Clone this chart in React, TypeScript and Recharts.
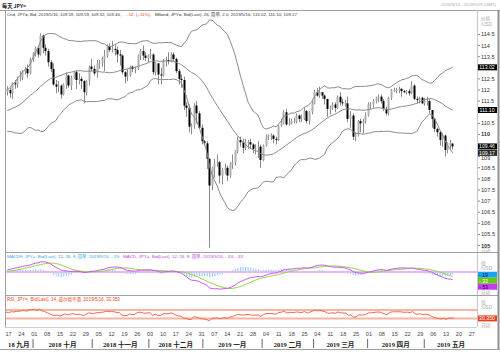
import React from "react";
import { Bar, ComposedChart, Line, ReferenceLine, XAxis, YAxis } from "recharts";

// daily slots run Sep 14 2018 .. May 29 2019, weekdays only
const FIRST_DAY = Date.UTC(2018, 8, 14);
const N_SLOTS = 184;

// closes Jul 2 .. Sep 13 2018, only used to warm up the indicators
const WARMUP_CLOSE = [
  110.9, 110.45, 110.5, 110.6, 110.45, 110.85, 111.0, 112.0, 112.5, 112.35, 112.3, 112.9, 112.85, 112.45, 111.4,
  111.35, 111.2, 110.95, 111.05, 111.05, 111.05, 111.85, 111.7, 111.65, 111.25, 111.35, 111.4, 110.95, 111.05, 110.9,
  110.7, 111.15, 110.7, 110.9, 110.5, 110.05, 110.3, 110.5, 111.3, 111.25, 111.15, 111.2, 111.7, 111.0, 111.0,
  111.05, 111.5, 111.5, 110.7, 110.95, 111.1, 111.6, 111.3, 111.95,
];

const OPEN = [
  // Sep
  111.92, 112.0, 111.85, 112.3, 112.25, 112.5, 112.55, 112.8, 112.95, 112.75, 113.4,
  // Oct
  113.65, 113.9, 113.6, 114.45, 113.9, 113.75, 113.25, 112.95, 112.25, 112.15, 112.2, 111.8, 112.25, 112.65, 112.2,
  112.55, 112.8, 112.45, 112.5, 112.4, 111.9, 112.4, 113.05,
  // Nov
  112.95, 112.75, 113.2, 113.2, 113.4, 113.55, 113.95, 113.8, 113.85, 113.8, 113.6, 113.55, 112.8, 112.6, 112.65,
  113.05, 112.95, 112.95, 113.55, 113.75, 113.55, 113.45,
  // Dec
  113.55, 113.6, 112.8, 113.2, 112.7, 112.65, 113.3, 113.35, 113.3, 113.6, 113.4, 112.85, 112.5, 112.45, 111.3,
  111.2, 110.35, 110.4, 111.3, 110.95, 110.3,
  // Jan
  109.7, 109.6, 108.9, 107.7, 108.5, 108.7, 108.75, 108.15, 108.4, 108.5, 108.15, 108.65, 108.75, 109.25, 109.75,
  109.65, 109.4, 109.6, 109.65, 109.55, 109.35, 109.4, 109.45,
  // Feb
  108.85, 109.5, 109.9, 109.95, 109.95, 109.8, 109.75, 110.4, 110.5, 111.0, 110.45, 110.5, 110.6, 110.6, 110.85,
  110.7, 110.7, 111.05, 110.6, 111.0,
  // Mar
  111.4, 111.9, 111.75, 111.9, 111.75, 111.6, 111.15, 111.2, 111.35, 111.2, 111.7, 111.45, 111.4, 111.4, 110.7,
  110.85, 109.9, 110.0, 110.6, 110.5, 110.6,
  // Apr
  110.85, 111.35, 111.35, 111.5, 111.65, 111.7, 111.5, 111.15, 110.95, 111.65, 112.0, 112.0, 112.0, 112.05, 111.95,
  111.9, 111.95, 111.85, 112.2, 111.6, 111.55, 111.65,
  // May
  111.4, 111.5, 111.5, 111.1, 110.7, 110.25, 110.1, 109.75, 109.95, 109.3, 109.6, 109.59,
];

const HIGH = [
  112.17, 112.1, 112.35, 112.45, 112.6, 112.85, 112.9, 113.05, 113.15, 113.45, 113.7,
  113.95, 114.0, 114.55, 114.5, 114.05, 113.85, 113.35, 113.2, 112.45, 112.4, 112.25, 112.3, 112.8, 112.7, 112.65,
  112.85, 112.9, 112.75, 112.6, 112.45, 112.45, 113.1, 113.4,
  113.1, 113.35, 113.35, 113.5, 113.8, 114.05, 114.1, 114.2, 114.05, 113.95, 113.8, 113.6, 112.85, 112.95, 113.1,
  113.1, 113.05, 113.6, 113.85, 114.0, 113.7, 113.6,
  113.85, 113.65, 113.25, 113.2, 113.0, 113.4, 113.5, 113.7, 113.7, 113.7, 113.45, 112.95, 112.7, 112.6, 111.45,
  111.35, 110.5, 111.4, 111.5, 111.05, 110.45,
  109.75, 109.7, 108.95, 108.55, 108.9, 109.1, 108.8, 108.5, 108.7, 108.6, 108.75, 109.1, 109.3, 109.9, 109.9,
  109.8, 109.8, 109.75, 109.8, 109.6, 109.55, 109.7, 109.55,
  109.55, 110.0, 110.0, 110.05, 110.0, 109.9, 110.45, 110.7, 111.1, 111.15, 110.75, 110.7, 110.75, 110.95, 110.9,
  110.9, 111.2, 111.1, 111.05, 111.5,
  112.0, 112.1, 112.15, 111.9, 111.8, 111.6, 111.3, 111.45, 111.45, 111.75, 111.9, 111.6, 111.55, 111.7, 111.05,
  110.95, 110.1, 110.65, 110.7, 110.7, 111.0,
  111.45, 111.45, 111.6, 111.7, 111.8, 111.8, 111.6, 111.25, 111.7, 112.05, 112.1, 112.1, 112.15, 112.1, 112.0,
  112.0, 112.05, 112.4, 112.25, 111.7, 111.7, 111.7,
  111.65, 111.7, 111.6, 111.1, 110.75, 110.3, 110.15, 110.05, 110.0, 109.65, 109.75, 109.59,
];

const LOW = [
  111.75, 111.65, 111.6, 112.05, 112.1, 112.4, 112.45, 112.7, 112.55, 112.7, 113.25,
  113.5, 113.45, 113.55, 113.65, 113.55, 113.05, 112.8, 112.2, 111.85, 111.9, 111.6, 111.75, 112.05, 112.1, 112.0,
  112.5, 112.05, 112.25, 112.05, 111.4, 111.75, 112.2, 112.85,
  112.65, 112.55, 112.95, 113.05, 112.85, 113.45, 113.7, 113.7, 113.55, 113.25, 113.1, 112.7, 112.3, 112.4, 112.6,
  112.8, 112.75, 112.9, 113.35, 113.35, 113.3, 113.25,
  113.4, 112.7, 112.65, 112.25, 112.25, 112.6, 113.05, 113.15, 113.25, 113.3, 112.75, 112.25, 112.1, 111.1, 110.8,
  110.1, 110.0, 110.25, 110.5, 110.25, 109.55,
  109.5, 108.45, 104.9, 107.5, 108.05, 108.55, 107.8, 107.75, 108.2, 107.9, 108.05, 108.45, 108.6, 109.15, 109.45,
  109.15, 109.3, 109.35, 109.35, 109.15, 109.1, 108.95, 108.5,
  108.8, 109.45, 109.75, 109.75, 109.6, 109.55, 109.7, 110.35, 110.45, 110.4, 110.4, 110.45, 110.5, 110.5, 110.55,
  110.55, 110.65, 110.5, 110.45, 110.9,
  111.35, 111.7, 111.65, 111.6, 111.35, 110.8, 110.9, 111.1, 111.0, 111.15, 111.3, 111.3, 111.25, 110.55, 110.3,
  109.75, 109.7, 109.9, 110.1, 110.05, 110.5,
  110.8, 111.15, 111.2, 111.4, 111.45, 111.4, 111.05, 110.85, 110.85, 111.55, 111.9, 111.85, 111.85, 111.7, 111.85,
  111.8, 111.75, 111.8, 111.55, 111.4, 111.4, 111.35,
  111.3, 111.3, 110.95, 110.3, 110.1, 109.9, 109.5, 109.45, 109.0, 109.15, 109.35, 109.32,
];

const CLOSE = [
  112.05, 111.85, 112.3, 112.25, 112.5, 112.55, 112.8, 112.95, 112.75, 113.4, 113.65,
  113.9, 113.6, 114.45, 113.9, 113.75, 113.25, 112.95, 112.25, 112.15, 112.2, 111.8, 112.25, 112.65, 112.2, 112.55,
  112.8, 112.45, 112.5, 112.4, 111.9, 112.4, 113.05, 112.95,
  112.75, 113.2, 113.2, 113.4, 113.55, 113.95, 113.8, 113.85, 113.8, 113.6, 113.55, 112.8, 112.6, 112.65, 113.05,
  112.95, 112.95, 113.55, 113.75, 113.55, 113.45, 113.55,
  113.6, 112.8, 113.2, 112.7, 112.65, 113.3, 113.35, 113.3, 113.6, 113.4, 112.85, 112.5, 112.45, 111.3, 111.2,
  110.35, 110.4, 111.3, 110.95, 110.3, 109.7,
  109.6, 108.9, 107.7, 108.5, 108.7, 108.75, 108.15, 108.4, 108.5, 108.15, 108.65, 108.75, 109.25, 109.75, 109.65,
  109.4, 109.6, 109.65, 109.55, 109.35, 109.4, 109.45, 108.85,
  109.5, 109.9, 109.95, 109.95, 109.8, 109.75, 110.4, 110.5, 111.0, 110.45, 110.5, 110.6, 110.6, 110.85, 110.7,
  110.7, 111.05, 110.6, 111.0, 111.4,
  111.9, 111.75, 111.9, 111.75, 111.6, 111.15, 111.2, 111.35, 111.2, 111.7, 111.45, 111.4, 111.4, 110.7, 110.85,
  109.9, 110.0, 110.6, 110.5, 110.6, 110.85,
  111.35, 111.35, 111.5, 111.65, 111.7, 111.5, 111.15, 110.95, 111.65, 112.0, 112.0, 112.0, 112.05, 111.95, 111.9,
  111.95, 111.85, 112.2, 111.6, 111.55, 111.65, 111.4,
  111.5, 111.5, 111.1, 110.7, 110.25, 110.1, 109.75, 109.95, 109.3, 109.6, 109.6, 109.46,
];

const MONTH_LABELS = [
  "18 九月", "2018 十月", "2018 十一月", "2018 十二月", "2019 一月",
  "2019 二月", "2019 三月", "2019 四月", "2019 五月",
];

// 113, 111 and 109.5 sit under the value boxes, so they are left out
const PRICE_TICKS = [
  105, 105.5, 106, 106.5, 107, 107.5, 108, 108.5, 109, 110, 110.5,
  111.5, 112, 112.5, 113.5, 114, 114.5,
];
const BBAND_LAST = [113.02, 111.1, 109.17];
const CLOSE_LAST = 109.46;
const MACD_LAST = [-0.19, -0.33, -0.53]; // histogram, signal, macd
const RSI_LAST = 30.35;

const BB_N = 26;
const BB_K = 2.0;

// layout
const W = 500;
const PLOT_L = 6;
const AXIS_W = 23;
const SLOT = (W - PLOT_L - AXIS_W) / N_SLOTS;
const SMALL = "'Liberation Sans', 'Noto Sans CJK SC', sans-serif";
const CJK = "'Noto Sans CJK SC', sans-serif";

const days: Date[] = [];
for (let t = FIRST_DAY; days.length < N_SLOTS; t += 86400000) {
  const d = new Date(t);
  const wd = d.getUTCDay();
  if (wd !== 0 && wd !== 6) days.push(d);
}
const mondayIdx = days.map((d, i) => (d.getUTCDay() === 1 ? i : -1)).filter((i) => i >= 0);
const monthStart = days
  .map((d, i) => (i === 0 || d.getUTCMonth() !== days[i - 1].getUTCMonth() ? i : -1))
  .filter((i) => i >= 0);

// indicators over warm-up + visible closes
const ALL = [...WARMUP_CLOSE, ...CLOSE];
const OFF = WARMUP_CLOSE.length;
const mean = (a: number[]) => a.reduce((s, v) => s + v, 0) / a.length;
const ema = (n: number) => {
  const k = 2 / (n + 1);
  const out: number[] = [];
  ALL.forEach((v, i) => out.push(i === 0 ? v : v * k + out[i - 1] * (1 - k)));
  return out;
};
const e12 = ema(12);
const e26 = ema(26);
const macdAll = ALL.map((_, i) => e12[i] - e26[i]);
const sigAll = macdAll.map((v, i) => (i < 8 ? v : mean(macdAll.slice(i - 8, i + 1))));
const rsiAll: number[] = [50];
let ag = 0;
let al = 0;
for (let i = 1; i < ALL.length; i++) {
  const ch = ALL[i] - ALL[i - 1];
  const g = Math.max(ch, 0);
  const l = Math.max(-ch, 0);
  if (i <= 14) {
    ag += g / 14;
    al += l / 14;
  } else {
    ag = (ag * 13 + g) / 14;
    al = (al * 13 + l) / 14;
  }
  rsiAll.push(al === 0 ? 100 : 100 - 100 / (1 + ag / al));
}

const rows = days.map((_, i) => {
  if (i >= CLOSE.length) return { i, range: null };
  const j = OFF + i;
  const win = ALL.slice(j - BB_N + 1, j + 1);
  const m = mean(win);
  const sd = Math.sqrt(mean(win.map((v) => (v - m) ** 2)));
  return {
    i,
    range: [LOW[i], HIGH[i]],
    o: OPEN[i],
    h: HIGH[i],
    l: LOW[i],
    c: CLOSE[i],
    up: m + BB_K * sd,
    mid: m,
    lo: m - BB_K * sd,
    macd: macdAll[j],
    sig: sigAll[j],
    hist: macdAll[j] - sigAll[j],
    rsi: rsiAll[j],
  };
});

function Candle(props: any) {
  const { x, y, width, height, payload } = props;
  if (!payload || payload.c == null) return null;
  const top = Math.min(y, y + height);
  const h = Math.abs(height);
  const py = (v: number) => top + ((payload.h - v) / (payload.h - payload.l)) * h;
  const cx = Math.round(x + width / 2);
  const rise = payload.c >= payload.o;
  const bt = py(Math.max(payload.o, payload.c));
  const bb = py(Math.min(payload.o, payload.c));
  return (
    <g>
      <line x1={cx + 0.5} x2={cx + 0.5} y1={top} y2={top + h} stroke="#8a8a8a" strokeWidth={1} />
      <rect x={cx - 0.5} y={bt} width={2} height={Math.max(bb - bt, 1)} fill={rise ? "#b0b0b0" : "#000"} />
    </g>
  );
}

const BOXED = [...BBAND_LAST, CLOSE_LAST];

function PriceTick(props: any) {
  const { x, y, payload } = props;
  const v = payload.value as number;
  if (BOXED.includes(v)) {
    return (
      <g>
        <rect x={x - 4} y={y - 3} width={20} height={6} fill={v === BBAND_LAST[2] ? "#2a2a2a" : "#000"} />
        <text x={x + 6} y={y + 2} fontSize={5.2} fontFamily={SMALL} fill="#fff" textAnchor="middle">
          {v.toFixed(2)}
        </text>
      </g>
    );
  }
  // the 109 label peeks out just under the 109.17 box
  const dy = v === 109 ? 3.4 : 2;
  return (
    <text x={x} y={y + dy} fontSize={5.6} fontFamily={SMALL} fill="#333" fontWeight={v % 5 === 0 ? 700 : 400}>
      {String(v)}
    </text>
  );
}

const MACD_BOX = [
  { fill: "#1aa3f0", ink: "#102030" },
  { fill: "#66c814", ink: "#ffffff" },
  { fill: "#c23cf0", ink: "#1a1030" },
];
let macdStackY = 0;
function MacdTick(props: any) {
  const { x, y, payload, index } = props;
  const yy = index > 0 ? Math.max(y, macdStackY + 6) : y;
  macdStackY = yy;
  const s = MACD_BOX[index] || MACD_BOX[0];
  return (
    <g>
      <rect x={x - 4} y={yy - 3} width={20} height={6} fill={s.fill} />
      <text x={x - 2} y={yy + 2} fontSize={5.2} fontFamily={SMALL} fill={s.ink}>
        {String(payload.value).replace("0.", ".")}
      </text>
    </g>
  );
}

function RsiTick(props: any) {
  const { x, y, payload } = props;
  return (
    <g>
      <rect x={x - 4} y={y - 3} width={20} height={6} fill="#e8401c" />
      <text x={x + 6} y={y + 2} fontSize={5.2} fontFamily={SMALL} fill="#fff" textAnchor="middle">
        {payload.value.toFixed(3)}
      </text>
    </g>
  );
}

function DayTick(props: any) {
  const { x, y, payload } = props;
  const d = days[payload.value];
  return (
    <text x={x} y={y + 5} fontSize={5.6} fontFamily={SMALL} fill="#444" textAnchor="middle">
      {String(d.getUTCDate()).padStart(2, "0")}
    </text>
  );
}

function MonthTick(props: any) {
  const { x, y, payload } = props;
  const k = monthStart.indexOf(payload.value);
  const next = k + 1 < monthStart.length ? monthStart[k + 1] : N_SLOTS;
  const sep = x - SLOT / 2;
  const mid = sep + ((next - payload.value) * SLOT) / 2;
  return (
    <g>
      {k > 0 && <line x1={sep} x2={sep} y1={y - 3} y2={y + 6} stroke="#666" strokeWidth={1} />}
      <text
        x={mid}
        y={y + 4.5}
        fontSize={6.6}
        fontWeight={700}
        fontFamily="'Liberation Serif', 'Noto Sans CJK SC', serif"
        fill="#222"
        textAnchor="middle"
      >
        {MONTH_LABELS[k]}
      </text>
    </g>
  );
}

function PricePane() {
  return (
    <ComposedChart width={W} height={242} data={rows} margin={{ top: 0, right: 0, bottom: 0, left: PLOT_L }}>
      <XAxis dataKey="i" hide />
      <YAxis
        orientation="right"
        width={AXIS_W}
        type="number"
        domain={[104.71, 115.6]}
        allowDataOverflow
        ticks={[...PRICE_TICKS, ...BOXED]}
        interval={0}
        tick={PriceTick}
        tickSize={3}
        tickMargin={1}
        tickLine={{ stroke: "#888" }}
        axisLine={false}
      />
      <Line dataKey="up" stroke="#8a8a8a" strokeWidth={1} dot={false} isAnimationActive={false} />
      <Line dataKey="mid" stroke="#8a8a8a" strokeWidth={1} dot={false} isAnimationActive={false} />
      <Line dataKey="lo" stroke="#8a8a8a" strokeWidth={1} dot={false} isAnimationActive={false} />
      <Bar dataKey="range" barSize={2} shape={Candle} isAnimationActive={false} />
    </ComposedChart>
  );
}

function MacdPane() {
  return (
    <ComposedChart width={W} height={43} data={rows} margin={{ top: 0, right: 0, bottom: 0, left: PLOT_L }}>
      <XAxis dataKey="i" hide />
      <YAxis
        orientation="right"
        width={AXIS_W}
        type="number"
        domain={[-1.59, 1.38]}
        allowDataOverflow
        ticks={MACD_LAST}
        interval={0}
        tick={MacdTick}
        tickSize={3}
        tickMargin={1}
        tickLine={false}
        axisLine={false}
      />
      <ReferenceLine y={0} stroke="#e8b8f4" strokeWidth={2} />
      <Bar dataKey="hist" barSize={1} fill="#7cccf4" isAnimationActive={false} />
      <Line dataKey="sig" stroke="#94d444" strokeWidth={1} dot={false} isAnimationActive={false} />
      <Line dataKey="macd" stroke="#cc55ee" strokeWidth={1} dot={false} isAnimationActive={false} />
    </ComposedChart>
  );
}

function RsiPane() {
  return (
    <ComposedChart width={W} height={54} data={rows} margin={{ top: 0, right: 0, bottom: 0, left: PLOT_L }}>
      <XAxis
        dataKey="i"
        ticks={mondayIdx}
        interval={0}
        tick={DayTick}
        tickLine={false}
        axisLine={false}
        tickSize={2}
        height={11}
      />
      <XAxis
        xAxisId="m"
        dataKey="i"
        ticks={monthStart}
        interval={0}
        tick={MonthTick}
        tickLine={false}
        axisLine={false}
        tickSize={2}
        height={11}
      />
      <YAxis
        orientation="right"
        width={AXIS_W}
        type="number"
        domain={[-10, 140]}
        allowDataOverflow
        ticks={[RSI_LAST]}
        interval={0}
        tick={RsiTick}
        tickSize={3}
        tickMargin={1}
        tickLine={false}
        axisLine={false}
      />
      <ReferenceLine y={70} stroke="#f8b4a4" strokeWidth={2} />
      <ReferenceLine y={30} stroke="#f8b4a4" strokeWidth={2} />
      <Line dataKey="rsi" stroke="#f06848" strokeWidth={1} dot={false} isAnimationActive={false} />
    </ComposedChart>
  );
}

function Overlay() {
  const grey = "#a8a8a8";
  const hdr = { fontFamily: SMALL, lengthAdjust: "spacingAndGlyphs" as const };
  return (
    <svg width={W} height={352} style={{ position: "absolute", left: 0, top: 0, pointerEvents: "none" }}>
      <text x={2} y={7.5} fontSize={5.2} fontWeight={700} fontFamily={CJK} fill="#111">
        每天 JPY=
      </text>
      <text x={441} y={6} fontSize={4.4} fontFamily={SMALL} fill="#aaa" textLength={55} lengthAdjust="spacingAndGlyphs">
        2018/9/14 - 2019/5/29 (GMT)
      </text>

      <text x={7} y={16} fill="#333" fontSize={4.3} textLength={114} {...hdr}>
        Cnd, JPY=, Bid, 2019/5/16, 109.59, 109.59, 109.32, 109.46,
      </text>
      <text x={126} y={16} fill="#e03020" fontSize={4.3} textLength={25} {...hdr}>
        -.12, (-.11%),
      </text>
      <text x={155} y={16} fill="#333" fontSize={4.3} textLength={142} {...hdr}>
        BBand, JPY=, Bid(Last), 26, 简单, 2.0, 2019/5/16, 113.02, 111.10, 109.17
      </text>

      <text x={7} y={257.5} fill="#2aa4e8" fontSize={4.4} textLength={113} {...hdr}>
        MACDF, JPY=, Bid(Last), 12, 26, 9, 简单, 2019/5/16, -.19;
      </text>
      <text x={123} y={257.5} fill="#c040e0" fontSize={4.4} textLength={120} {...hdr}>
        MACD, JPY=, Bid(Last), 12, 26, 9, 简单, 2019/5/16, -.53, -.33
      </text>
      <text x={7} y={300.5} fill="#ee4422" fontSize={4.5} textLength={113} {...hdr}>
        RSI, JPY=, Bid(Last), 14, 威尔德平滑, 2019/5/16, 30.350
      </text>

      <g fontSize={4.6} fontFamily={SMALL} fill={grey}>
        <text x={481} y={19.5}>价格</text>
        <text x={481} y={25.5}>/USD</text>
        <text x={481} y={251.5}>自动</text>
        <text x={481} y={264.5}>值</text>
        <text x={481} y={269.8}>/USD</text>
        <text x={481} y={293.8}>自动</text>
        <text x={481} y={303.5}>值</text>
        <text x={481} y={309}>/USD</text>
        <text x={481} y={326.8}>自动</text>
      </g>

      <g stroke="#a0a0a0" strokeWidth={1} fill="none">
        <path d="M0 10.5 H500" />
        <path d="M5.5 10 V327" />
        <path d="M477.5 10 V327" stroke="#c8c8c8" />
        <path d="M5 252.5 H498" />
        <path d="M5 295.5 H498" />
        <path d="M5 327.5 H477" stroke="#d0d0d0" />
        <path d="M498.5 10 V350" stroke="#909090" strokeWidth={2} />
        <path d="M0 349.5 H500" />
      </g>
    </svg>
  );
}

export default function App() {
  return (
    <div style={{ position: "absolute", left: 0, top: 0, width: W, height: 352, background: "#fff", overflow: "hidden" }}>
      <div style={{ position: "absolute", left: 0, top: 10 }}>
        <PricePane />
      </div>
      <div style={{ position: "absolute", left: 0, top: 252 }}>
        <MacdPane />
      </div>
      <div style={{ position: "absolute", left: 0, top: 295 }}>
        <RsiPane />
      </div>
      <Overlay />
    </div>
  );
}
